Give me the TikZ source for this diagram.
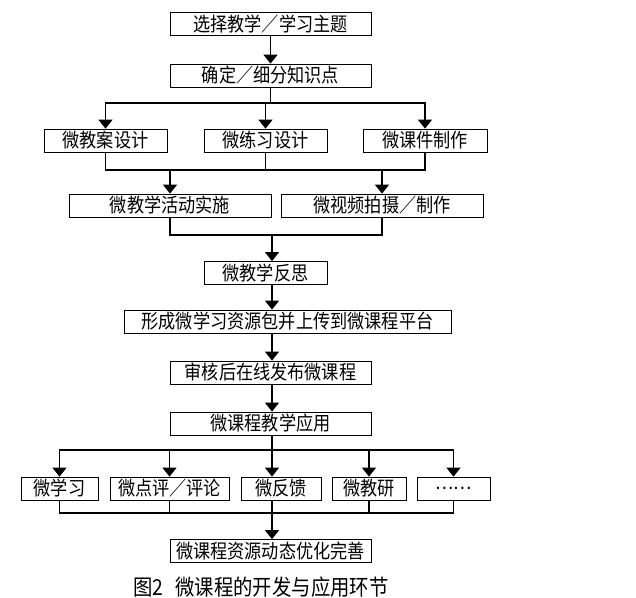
\documentclass[tikz,border=0pt]{standalone}
\usepackage{fontspec}
\newfontfamily\cjk[FakeStretch=0.88]{Noto Sans CJK SC}
\usetikzlibrary{arrows.meta}

\begin{document}
\begin{tikzpicture}[x=1pt, y=-1pt,
    box/.style={draw, line width=0.8pt, minimum height=23pt, inner sep=0pt,
        font=\cjk\fontsize{19.5}{19.5}\selectfont},
    link/.style={line width=1.5pt},
    arr/.style={link, -{Triangle[width=14pt, length=9pt]}}
]

\useasboundingbox (0,0) rectangle (636,597);

% Development steps
\node[box, minimum width=201pt] (theme)  at (270.5,24)  {选择教学／学习主题};
\node[box, minimum width=201pt] (point)  at (270.5,75.5) {确定／细分知识点};

\node[box, minimum width=123pt] (jiaoan) at (105.5,140.5) {微教案设计};
\node[box, minimum width=123pt] (lianxi) at (265.5,140.5) {微练习设计};
\node[box, minimum width=124pt] (kejian) at (425,140.5)   {微课件制作};

\node[box, minimum width=202pt] (huodong) at (170,205.5) {微教学活动实施};
\node[box, minimum width=202pt] (shipin)  at (382,205.5) {微视频拍摄／制作};

\node[box, minimum width=123pt] (fansi)   at (265.5,273)  {微教学反思};
\node[box, minimum width=327pt] (pack)    at (287.5,321.5) {形成微学习资源包并上传到微课程平台};
\node[box, minimum width=201pt] (publish) at (270.5,372.5) {审核后在线发布微课程};
\node[box, minimum width=201pt] (apply)   at (270.5,423.5) {微课程教学应用};

% Application steps
\node[box, minimum width=77pt]  (xuexi)    at (59.5,488.5)  {微学习};
\node[box, minimum width=119pt] (dianping) at (169.5,488.5) {微点评／评论};
\node[box, minimum width=80pt]  (fankui)   at (281,488.5)   {微反馈};
\node[box, minimum width=74pt]  (jiaoyan)  at (369,488.5)   {微教研};
\node[box, minimum width=73pt]  (more)     at (453.5,488.5) {……};

\node[box, minimum width=201pt] (final) at (270.5,551) {微课程资源动态优化完善};

% Caption
\node[font=\cjk\fontsize{22}{22}\selectfont] (caption) at (261,587)
    {图2\hspace{12pt}微课程的开发与应用环节};

% Split and merge points
\coordinate (s1) at (270.5,103);
\coordinate (m1) at (270.5,170);
\coordinate (m2) at (272,235);
\coordinate (s2) at (272,450);
\coordinate (m3) at (272,513);

% Connectors
\draw[arr] (theme) -- (point);

\draw[link] (point) -- (s1);
\foreach \n in {jiaoan,lianxi,kejian}
    \draw[arr] (s1) -| (\n.north);

\foreach \n in {jiaoan,lianxi,kejian}
    \draw[link] (\n.south) |- (m1);
\draw[arr] (m1) -| (huodong.north);
\draw[arr] (m1) -| (shipin.north);

\draw[link] (huodong.south) |- (m2);
\draw[link] (shipin.south) |- (m2);
\draw[arr] (m2) -- (m2 |- fansi.north);

\draw[arr] (fansi.south -| m2) -- (pack.north -| m2);
\draw[arr] (pack.south -| m2) -- (publish.north -| m2);
\draw[arr] (publish.south -| m2) -- (apply.north -| m2);

\draw[link] (apply.south -| s2) -- (s2);
\foreach \n in {xuexi,dianping,jiaoyan,more}
    \draw[arr] (s2) -| (\n.north);
\draw[arr] (s2) -- (fankui.north -| s2);

\foreach \n in {xuexi,dianping,jiaoyan,more}
    \draw[link] (\n.south) |- (m3);
\draw[link] (fankui.south -| m3) -- (m3);
\draw[arr] (m3) -- (final.north -| m3);

\end{tikzpicture}
\end{document}
